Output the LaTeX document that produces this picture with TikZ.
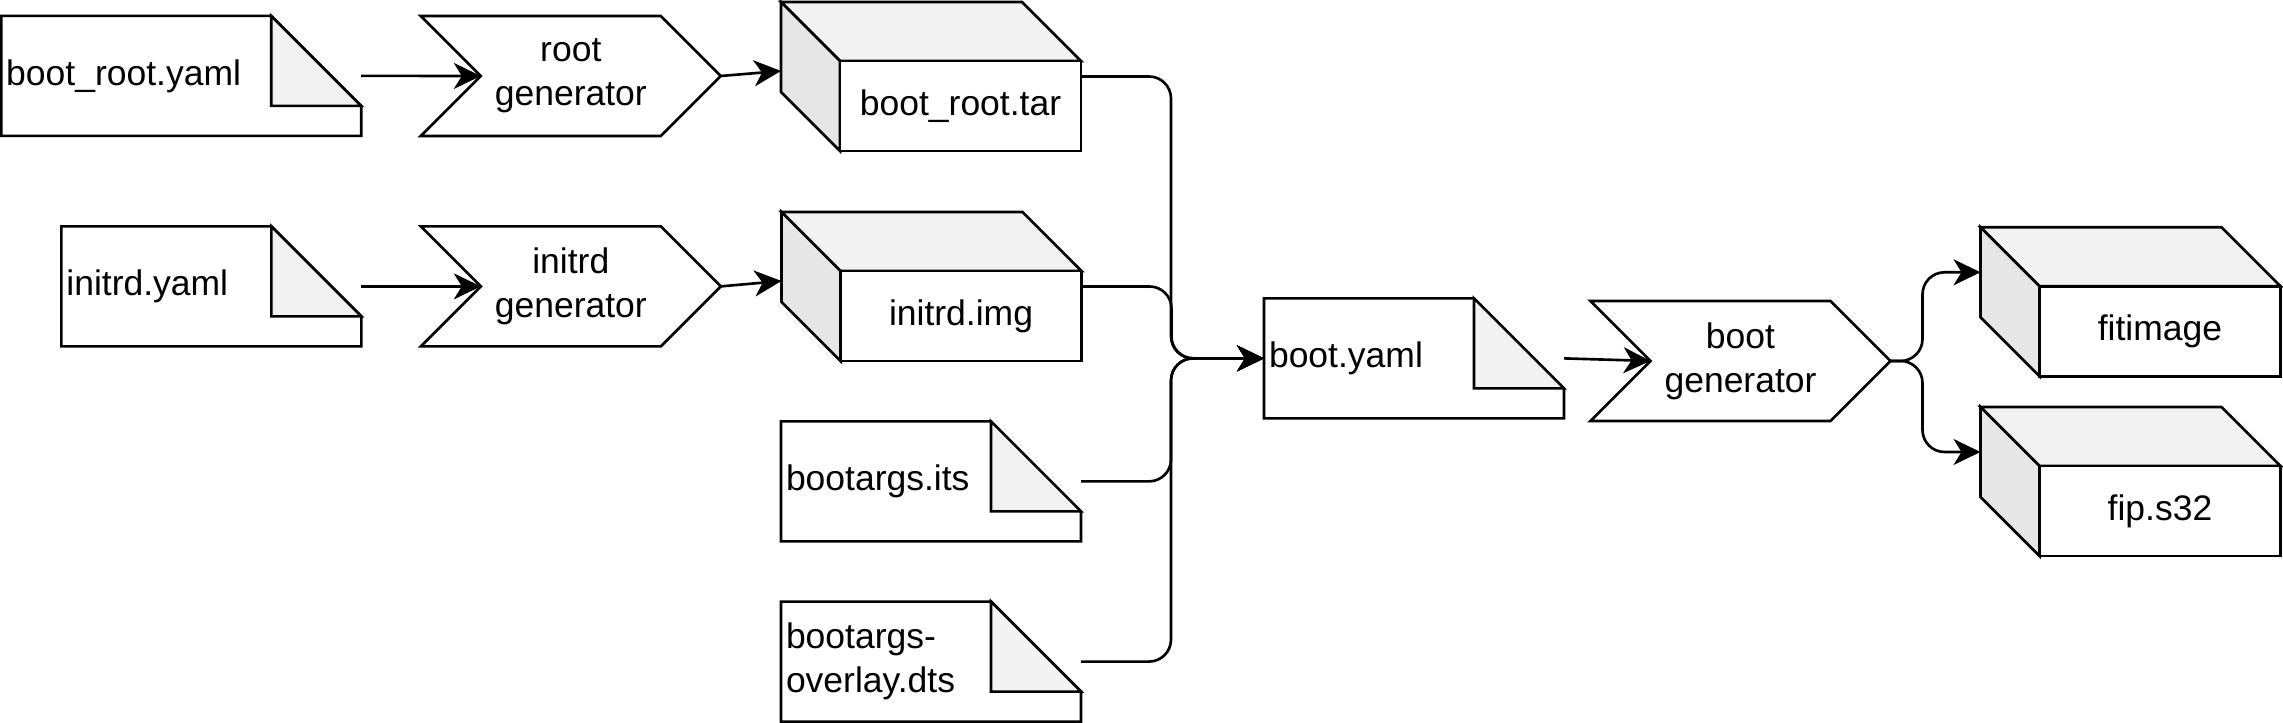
\documentclass[tikz,border=0pt]{standalone}
\usepackage{fontspec}
\setmainfont{Liberation Sans}
\usetikzlibrary{arrows.meta,calc,positioning,shapes.symbols}
\definecolor{ink}{HTML}{000000}
\definecolor{foldgray}{HTML}{F2F2F2}
\definecolor{topgray}{HTML}{F2F2F2}
\definecolor{sidegray}{HTML}{E6E6E6}
\tikzset{
  outline/.style={
    draw=ink,
    line width=0.75pt
  },
  note/.style={
    minimum width=3.0cm,
    minimum height=1.2cm,
    text width=2.9cm,
    inner xsep=0.05cm,
    inner ysep=0pt,
    outer sep=0pt,
    align=left,
    text=ink,
    font=\fontsize{10.1}{12.5}\selectfont,
    append after command={\pgfextra{\let\notenode\tikzlastnode
      \draw[outline] (\notenode.south west) -- (\notenode.north west)
        -- ([xshift=-0.9cm]\notenode.north east)
        -- ([yshift=-0.9cm]\notenode.north east)
        -- (\notenode.south east) -- cycle;
      \filldraw[outline, fill=foldgray] ([xshift=-0.9cm]\notenode.north east)
        -- ([shift={(-0.9,-0.9)}]\notenode.north east)
        -- ([yshift=-0.9cm]\notenode.north east) -- cycle;
    }}
  },
  gen/.style={
    signal,
    signal from=west,
    signal to=east,
    signal pointer angle=90,
    outline,
    minimum width=3.0cm,
    minimum height=1.2cm,
    inner sep=0pt,
    outer sep=0pt,
    align=center,
    text=ink,
    font=\fontsize{10.1}{12.5}\selectfont
  },
  cube/.style={
    outline,
    fill=white,
    minimum width=2.41cm,
    minimum height=0.9cm,
    inner sep=0pt,
    outer sep=0pt,
    align=center,
    text=ink,
    font=\fontsize{10.1}{12.5}\selectfont,
    append after command={\pgfextra{\let\cubenode\tikzlastnode
      \filldraw[outline, fill=topgray] (\cubenode.north west) -- ++(-0.59,0.59)
        -- ([shift={(-0.59,0.59)}]\cubenode.north east)
        -- (\cubenode.north east) -- cycle;
      \filldraw[outline, fill=sidegray] (\cubenode.north west) -- ++(-0.59,0.59)
        -- ([shift={(-0.59,0.59)}]\cubenode.south west)
        -- (\cubenode.south west) -- cycle;
    }}
  },
  flow/.style={
    -{Stealth[length=0.27cm,width=0.26cm,inset=0.08cm]},
    draw=ink,
    line width=0.75pt
  },
  bus/.style={
    flow,
    rounded corners=0.22cm
  }
}

\begin{document}
\begin{tikzpicture}[x=1cm,y=1cm]
  \useasboundingbox (0,0) rectangle (22.83,-7.23);

  % Inputs and generators
  \node[note, minimum width=3.6cm, text width=3.5cm] (bootrootyaml)
    at (1.812,-0.759) {boot\_root.yaml};
  \node[note] (initrdyaml) at (2.114,-2.864) {initrd.yaml};

  \node[gen] (rootgen) at (5.708,-0.76) {root\\generator};
  \node[gen] (initrdgen) at (5.708,-2.864) {initrd\\generator};

  % Built artefacts
  \node[cube] (boottar) at (9.605,-1.06) {boot\_root.tar};
  \node[cube] (initrdimg) at (9.61,-3.16) {initrd.img};

  \node[note] (bootargsits) at (9.31,-4.814) {bootargs.its};
  \node[note] (overlaydts) at (9.31,-6.616) {bootargs-\\overlay.dts};

  % Boot image
  \node[note] (bootyaml) at (14.14,-3.584) {boot.yaml};
  \node[gen] (bootgen) at (17.405,-3.61) {boot\\generator};

  \node[cube] (fitimage) at (21.6,-3.313) {fitimage};
  \node[cube] (fips32) at (21.6,-5.11) {fip.s32};

  % Connectors
  \draw[flow] (bootrootyaml.east) -- (rootgen.west);
  \draw[flow] (rootgen.east) -- ($(boottar.west)+(-0.59,0.35)$);
  \draw[flow] (initrdyaml.east) -- (initrdgen.west);
  \draw[flow] (initrdgen.east) -- ($(initrdimg.west)+(-0.59,0.35)$);

  \draw[bus] ($(boottar.east)+(0,0.295)$) -- ++(0.9,0) |- (bootyaml.west);
  \draw[bus] ($(initrdimg.east)+(0,0.295)$) -- ++(0.9,0) |- (bootyaml.west);
  \draw[bus] (bootargsits.east) -- ++(0.9,0) |- (bootyaml.west);
  \draw[bus] (overlaydts.east) -- ++(0.9,0) |- (bootyaml.west);

  \draw[flow] (bootyaml.east) -- (bootgen.west);
  \draw[bus] (bootgen.east) -- ++(0.32,0) |- ($(fitimage.west)+(-0.59,0.59)$);
  \draw[bus] (bootgen.east) -- ++(0.32,0) |- ($(fips32.west)+(-0.59,0.59)$);
\end{tikzpicture}
\end{document}
